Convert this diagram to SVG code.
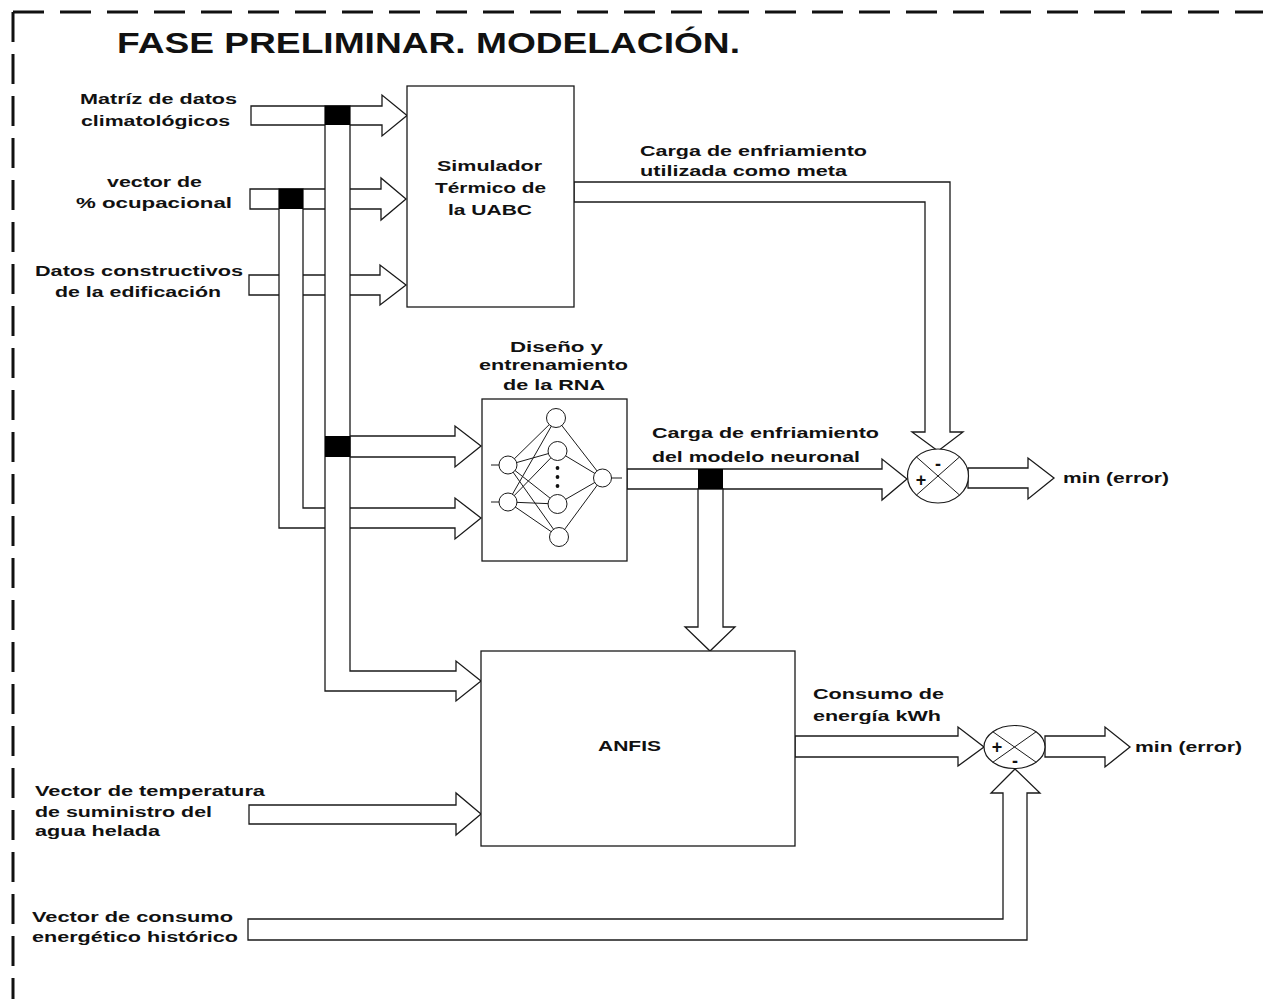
<svg xmlns="http://www.w3.org/2000/svg" width="1263" height="999" viewBox="0 0 1263 999">
<style>
.pipe{fill:#fff;stroke:#1a1a1a;stroke-width:1.3;stroke-linejoin:miter}
.box{fill:#fff;stroke:#1a1a1a;stroke-width:1.3}
.t{font-family:"Liberation Sans",Arial,sans-serif;font-weight:bold;font-size:14.5px;fill:#111}
.title{font-size:30px}
.jn{fill:#000}
.nn{fill:#fff;stroke:#1a1a1a;stroke-width:1}
.ln{stroke:#1a1a1a;stroke-width:1;fill:none}
.border{stroke:#111;stroke-width:3;fill:none}
.sum{fill:#fff;stroke:#1a1a1a;stroke-width:1.2}
.sg{font-family:"Liberation Sans",Arial,sans-serif;font-weight:bold;font-size:18px;fill:#111;text-anchor:middle}
</style>
<rect width="1263" height="999" fill="#fff"/>
<g id="border">
<line class="border" x1="13" y1="12" x2="1263" y2="12" stroke-dasharray="31 16"/>
<line class="border" x1="13" y1="12" x2="13" y2="999" stroke-dasharray="30 12"/>
</g>
<g id="title">
<text class="t title" x="117" y="53" textLength="623" lengthAdjust="spacingAndGlyphs">FASE PRELIMINAR. MODELACIÓN.</text>
</g>
<g id="connectors">
<polygon class="pipe" points="251,106 382,106 382,95 407,115.5 382,136 382,125 251,125"/>
<polygon class="pipe" points="250,189 381,189 381,178 406,199 381,220 381,209 250,209"/>
<polygon class="pipe" points="249,275 380,275 380,265 406,285 380,305 380,295 249,295"/>
<polygon class="pipe" points="279,189 303,189 303,508 455,508 455,498 481,518 455,539 455,528 279,528"/>
<polygon class="pipe" points="350,436 455,436 455,426 481,446 455,467 455,457 350,457"/>
<polygon class="pipe" points="325,106 350,106 350,671 456,671 456,661 481,681 456,701 456,691 325,691"/>
<rect class="jn" x="325" y="106" width="25" height="19"/>
<rect class="jn" x="279" y="189" width="24" height="20"/>
<rect class="jn" x="325" y="436" width="25" height="21"/>
<polygon class="pipe" points="574,182 950,182 950,432 963,432 938,451 912,432 925,432 925,202 574,202"/>
<polygon class="pipe" points="627,469 882,469 882,459 907,479 882,500 882,489 627,489"/>
<polygon class="pipe" points="698,489 698,627 685,627 710,651 735,627 723,627 723,489"/>
<rect class="jn" x="698" y="469" width="25" height="20"/>
<polygon class="pipe" points="968,468 1028,468 1028,458 1054,478 1028,499 1028,488 968,488"/>
<polygon class="pipe" points="795,736 958,736 958,727 984,747 958,766 958,757 795,757"/>
<polygon class="pipe" points="1045,736 1105,736 1105,727 1130,747 1105,767 1105,757 1045,757"/>
<polygon class="pipe" points="248,919 1003,919 1003,793 991,793 1015,769 1040,793 1027,793 1027,940 248,940"/>
<polygon class="pipe" points="249,805 456,805 456,793 481,814 456,835 456,824 249,824"/>
</g>
<g id="inputs">
<text class="t" x="80" y="104" textLength="157" lengthAdjust="spacingAndGlyphs">Matríz de datos</text>
<text class="t" x="81" y="126" textLength="149" lengthAdjust="spacingAndGlyphs">climatológicos</text>
<text class="t" x="107" y="187" textLength="95" lengthAdjust="spacingAndGlyphs">vector de</text>
<text class="t" x="76" y="208" textLength="156" lengthAdjust="spacingAndGlyphs">% ocupacional</text>
<text class="t" x="35" y="276" textLength="208" lengthAdjust="spacingAndGlyphs">Datos constructivos</text>
<text class="t" x="55" y="297" textLength="166" lengthAdjust="spacingAndGlyphs">de la edificación</text>
<text class="t" x="35" y="796" textLength="230" lengthAdjust="spacingAndGlyphs">Vector de temperatura</text>
<text class="t" x="35" y="817" textLength="177" lengthAdjust="spacingAndGlyphs">de suministro del</text>
<text class="t" x="35" y="836" textLength="125" lengthAdjust="spacingAndGlyphs">agua helada</text>
<text class="t" x="32" y="922" textLength="201" lengthAdjust="spacingAndGlyphs">Vector de consumo</text>
<text class="t" x="32" y="942" textLength="206" lengthAdjust="spacingAndGlyphs">energético histórico</text>
</g>
<g id="simulador">
<rect class="box" x="407" y="86" width="167" height="221"/>
<text class="t" x="437" y="171" textLength="105" lengthAdjust="spacingAndGlyphs">Simulador</text>
<text class="t" x="435" y="193" textLength="111" lengthAdjust="spacingAndGlyphs">Térmico de</text>
<text class="t" x="448" y="215" textLength="84" lengthAdjust="spacingAndGlyphs">la UABC</text>
</g>
<g id="rna">
<text class="t" x="510" y="352" textLength="93" lengthAdjust="spacingAndGlyphs">Diseño y</text>
<text class="t" x="479" y="370" textLength="149" lengthAdjust="spacingAndGlyphs">entrenamiento</text>
<text class="t" x="503" y="390" textLength="102" lengthAdjust="spacingAndGlyphs">de la RNA</text>
<rect class="box" x="482" y="399" width="145" height="162"/>
<g class="ln">
<line x1="491" y1="465" x2="508" y2="465"/>
<line x1="491" y1="502" x2="508" y2="502"/>
<line x1="508" y1="465" x2="556" y2="418"/>
<line x1="508" y1="465" x2="557.5" y2="451"/>
<line x1="508" y1="465" x2="557.5" y2="504"/>
<line x1="508" y1="465" x2="559" y2="537"/>
<line x1="508" y1="502" x2="556" y2="418"/>
<line x1="508" y1="502" x2="557.5" y2="451"/>
<line x1="508" y1="502" x2="557.5" y2="504"/>
<line x1="508" y1="502" x2="559" y2="537"/>
<line x1="556" y1="418" x2="602.5" y2="478"/>
<line x1="557.5" y1="451" x2="602.5" y2="478"/>
<line x1="557.5" y1="504" x2="602.5" y2="478"/>
<line x1="559" y1="537" x2="602.5" y2="478"/>
<line x1="602.5" y1="478" x2="622" y2="478"/>
</g>
<circle class="nn" cx="508" cy="465" r="9"/>
<circle class="nn" cx="508" cy="502" r="9"/>
<circle class="nn" cx="556" cy="418" r="9.5"/>
<circle class="nn" cx="557.5" cy="451" r="9.5"/>
<circle class="nn" cx="557.5" cy="504" r="9.5"/>
<circle class="nn" cx="559" cy="537" r="9.5"/>
<circle class="nn" cx="602.5" cy="478" r="9"/>
<circle cx="557.5" cy="468" r="1.9" fill="#111"/>
<circle cx="557.5" cy="477" r="1.9" fill="#111"/>
<circle cx="557.5" cy="486" r="1.9" fill="#111"/>
</g>
<g id="anfis">
<rect class="box" x="481" y="651" width="314" height="195"/>
<text class="t" x="598" y="751" textLength="63" lengthAdjust="spacingAndGlyphs">ANFIS</text>
</g>
<g id="sum1">
<ellipse class="sum" cx="938" cy="476" rx="30.5" ry="27"/>
<line class="ln" x1="916.4" y1="456.9" x2="959.6" y2="495.1"/>
<line class="ln" x1="959.6" y1="456.9" x2="916.4" y2="495.1"/>
<text class="sg" x="938" y="470">-</text>
<text class="sg" x="921" y="486">+</text>
</g>
<g id="sum2">
<ellipse class="sum" cx="1014.5" cy="747" rx="30.5" ry="21.5"/>
<line class="ln" x1="992.9" y1="731.8" x2="1036.1" y2="762.2"/>
<line class="ln" x1="1036.1" y1="731.8" x2="992.9" y2="762.2"/>
<text class="sg" x="997" y="753">+</text>
<text class="sg" x="1015" y="767">-</text>
</g>
<g id="labels">
<text class="t" x="640" y="156" textLength="227" lengthAdjust="spacingAndGlyphs">Carga de enfriamiento</text>
<text class="t" x="640" y="176" textLength="207" lengthAdjust="spacingAndGlyphs">utilizada como meta</text>
<text class="t" x="652" y="438" textLength="227" lengthAdjust="spacingAndGlyphs">Carga de enfriamiento</text>
<text class="t" x="652" y="462" textLength="208" lengthAdjust="spacingAndGlyphs">del modelo neuronal</text>
<text class="t" x="1063" y="483" textLength="106" lengthAdjust="spacingAndGlyphs">min (error)</text>
<text class="t" x="813" y="699" textLength="131" lengthAdjust="spacingAndGlyphs">Consumo de</text>
<text class="t" x="813" y="721" textLength="128" lengthAdjust="spacingAndGlyphs">energía kWh</text>
<text class="t" x="1135" y="752" textLength="107" lengthAdjust="spacingAndGlyphs">min (error)</text>
</g>
</svg>
